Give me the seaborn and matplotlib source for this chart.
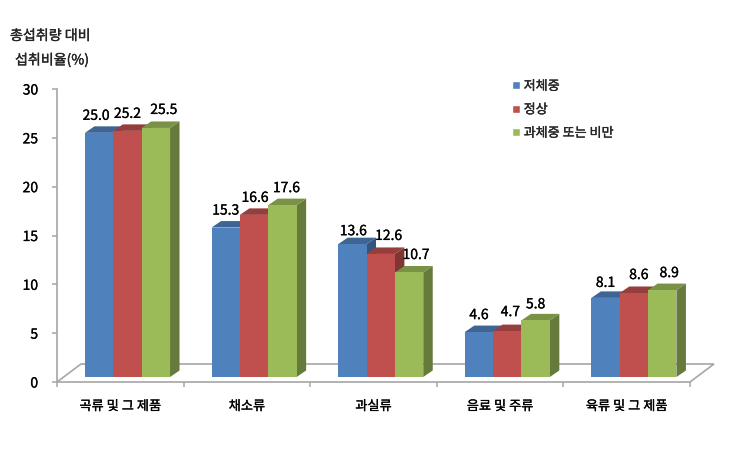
import matplotlib
matplotlib.use("Agg")
import matplotlib.pyplot as plt
import matplotlib.patheffects as pe
from matplotlib.patches import Polygon
from matplotlib.colors import to_rgb
import pandas as pd
import seaborn as sns

categories = ["곡류 및 그 제품", "채소류", "과실류", "음료 및 주류", "육류 및 그 제품"]
series_names = ["저체중", "정상", "과체중 또는 비만"]
underweight = [25.0, 15.3, 13.6, 4.6, 8.1]
normal = [25.2, 16.6, 12.6, 4.7, 8.6]
overweight = [25.5, 17.6, 10.7, 5.8, 8.9]
colors = ["#4F81BD", "#C0504D", "#9BBB59"]
yticks = [0, 5, 10, 15, 20, 25, 30]

sns.set_style("white")
FONT = ["Noto Sans CJK KR", "DejaVu Sans"]
plt.rcParams["font.family"] = FONT

W, H = 731, 475
fig = plt.figure(figsize=(W / 100, H / 100), dpi=100)
L, R, B, T = 57, 690, 382, 89
ax = fig.add_axes([L / W, (H - B) / H, (R - L) / W, (B - T) / H])

df = pd.DataFrame({
    "cat": categories * 3,
    "series": sum([[s] * len(categories) for s in series_names], []),
    "value": underweight + normal + overweight,
})
sns.barplot(data=df, x="cat", y="value", hue="series", hue_order=series_names,
            palette=colors, saturation=1, width=0.672, gap=0, dodge=True, ax=ax, legend=True)
ax.set_xlim(-0.5, 4.5)
ax.set_ylim(0, 30)

px_x = 5 / (R - L)
px_y = 30 / (B - T)

shift_x, shift_y = 7.2 * px_x, 5 * px_y      # bars sit inside the 3-D floor
depth_x, depth_y = 9.5 * px_x, 6.5 * px_y    # bar depth
floor_x, floor_y = 24 * px_x, 18 * px_y      # floor depth

semi = [pe.withStroke(linewidth=0.2, foreground="black")]


def shade(c, f):
    return tuple(v * f for v in to_rgb(c))


label_dx = [[-3, 0, 8], [0, 1, 4], [1, 8, 7], [0, 3, 0], [0, 5, 7]]
label_dy = [[17, 17, 18], [17, 17, 17], [13, 18, 17.5], [17, 19, 16], [15, 18, 17]]

for s, (cont, col) in enumerate(zip(ax.containers, colors)):
    for c, bar in enumerate(cont.patches):
        bar.set_x(bar.get_x() + shift_x)
        bar.set_y(shift_y)
        bar.set_edgecolor("none")
        bar.set_zorder(3 + s)
        x0, x1 = bar.get_x(), bar.get_x() + bar.get_width()
        y0, y1 = shift_y, shift_y + bar.get_height()
        ax.add_patch(Polygon([(x1, y0), (x1 + depth_x, y0 + depth_y),
                              (x1 + depth_x, y1 + depth_y), (x1, y1)],
                             closed=True, fc=shade(col, 0.66), ec="none",
                             zorder=2.9 + s, clip_on=False))
        ax.add_patch(Polygon([(x0, y1), (x0 + depth_x, y1 + depth_y),
                              (x1 + depth_x, y1 + depth_y), (x1, y1)],
                             closed=True, fc=shade(col, 0.78), ec="none",
                             zorder=2.9 + s, clip_on=False))
        ann = ax.annotate(f"{bar.get_height():.1f}", ((x0 + x1) / 2, y1),
                          xytext=(label_dx[c][s] * 0.72, label_dy[c][s] * 0.72),
                          textcoords="offset points", ha="center", va="center",
                          fontsize=10, color="black",
                          zorder=10, annotation_clip=False)
        ann.set_path_effects(semi)

# floor
grey = "#A6A6A6"
ax.plot([-0.5, -0.5 + floor_x, 4.5 + floor_x, 4.5], [0, floor_y, floor_y, 0],
        color=grey, lw=1.2, clip_on=False, zorder=1, solid_joinstyle="miter")

# axes
sns.despine(ax=ax, top=True, right=True)
for sp in ("left", "bottom"):
    ax.spines[sp].set_color(grey)
    ax.spines[sp].set_linewidth(1.2)
ax.set_xlabel("")
ax.set_ylabel("")
ax.set_yticks(yticks)
ax.tick_params(axis="y", length=3.6, width=1.1, color=grey, pad=10, left=True,
               labelsize=10, labelcolor="black")
for t in ax.get_yticklabels():
    t.set_path_effects(semi)
ax.set_xticks(range(len(categories)))
ax.set_xticklabels(categories)
ax.tick_params(axis="x", which="major", length=0, pad=13, labelsize=9.5, labelcolor="black")
for t in ax.get_xticklabels():
    t.set_path_effects(semi)
ax.set_xticks([i - 0.5 for i in range(len(categories) + 1)], minor=True)
ax.tick_params(axis="x", which="minor", length=3.6, width=1.1, color=grey, bottom=True)

# titles
for txt, x, y in (("총섭취량 대비", 10, 36), ("섭취비율(%)", 15, 60)):
    t = fig.text(x / W, 1 - y / H, txt, fontsize=10.1, va="center", ha="left")
    t.set_path_effects(semi)

# legend
leg = ax.legend(loc="upper left", bbox_to_anchor=(508 / W, 1 - 76 / H),
                bbox_transform=fig.transFigure, frameon=False, fontsize=9.4,
                handlelength=0.6, handleheight=0.6, handletextpad=0.3,
                labelspacing=0.8, borderpad=0.3, borderaxespad=0, title=None)
for t in leg.get_texts():
    t.set_path_effects(semi)

fig.savefig("out.png", dpi=100, facecolor="white")
